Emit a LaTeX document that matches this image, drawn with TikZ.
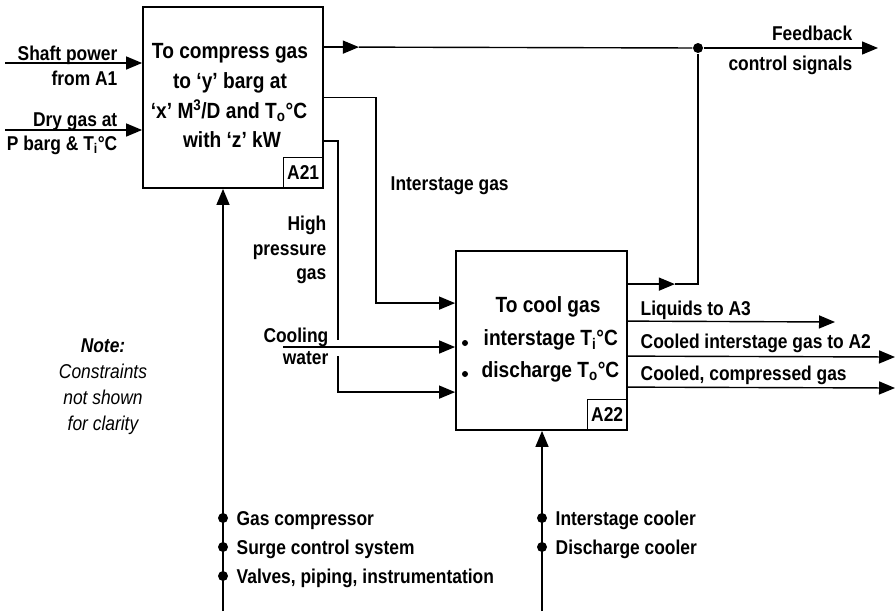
\documentclass[tikz,border=0pt]{standalone}
\usepackage{fontspec}
\setmainfont{Liberation Sans}[FakeStretch=0.87]
\usetikzlibrary{arrows.meta,calc}
\begin{document}
\begin{tikzpicture}[x=1pt,y=-1pt,line width=1.4pt,
  arr/.style={-{Triangle[length=16pt,width=13pt]}},
  box/.style={draw,line width=1.8pt,inner sep=0pt},
  tag/.style={draw,line width=1.4pt,inner sep=0pt,minimum width=40pt,minimum height=31pt,anchor=south east,font=\fontsize{20}{22}\selectfont\bfseries},
  lbl/.style={inner sep=0pt,font=\fontsize{20}{22}\selectfont\bfseries},
  big/.style={inner sep=0pt,font=\fontsize{22}{24}\selectfont\bfseries,anchor=base},
  notetxt/.style={inner sep=0pt,font=\fontsize{20}{22}\selectfont\itshape,anchor=base},
  dot/.style={circle,fill,inner sep=0pt,minimum size=10pt},
  sdot/.style={circle,fill,inner sep=0pt,minimum size=6pt}]
\useasboundingbox (0,0) rectangle (896,611);

% boxes
\node[box,minimum width=180pt,minimum height=181pt] (A21) at (233,97.5) {};
\node[tag] (A21t) at (A21.south east) {A21};
\node[box,minimum width=171pt,minimum height=179pt] (A22) at (541.5,340.5) {};
\node[tag] (A22t) at (A22.south east) {A22};

% box texts
\node[big] (t1) at (230,58) {To compress gas};
\node[big] (t2) at (230,88) {to ‘y’ barg at};
\node[big] (t3) at (229,118) {‘x’ M\textsuperscript{3}/D and T\textsubscript{o}°C};
\node[big] (t4) at (232,147) {with ‘z’ kW};

\node[big] (c1) at (548,312) {To cool gas};
\node[big,anchor=base west] (c2) at (483,345) {interstage T\textsubscript{i}°C};
\node[big,anchor=base west] (c3) at (481,377) {discharge T\textsubscript{o}°C};
\node[sdot] (b1) at (465,343) {};
\node[sdot] (b2) at (465,374) {};

% inputs to A21
\coordinate (sp) at (5,63);
\coordinate (dg) at (5,130);
\draw[arr] (sp) -- (sp -| A21.west);
\draw[arr] (dg) -- (dg -| A21.west);
\node[lbl,anchor=base east] (l1) at (118,60) {Shaft power};
\node[lbl,anchor=base east] (l2) at (118,85) {from A1};
\node[lbl,anchor=base east] (l3) at (118,126) {Dry gas at};
\node[lbl,anchor=base east] (l4) at (118,150) {P barg \& T\textsubscript{i}°C};

% top output and feedback
\coordinate (o1) at ($(A21.north east)+(0,41)$);
\coordinate (m1) at ($(o1)+(35,0)$);
\node[dot] (j) at (698,48) {};
\coordinate (fbend) at (878,48);
\draw[arr] (o1) -- (m1);
\draw (m1) -- (j);
\draw[arr] (j) -- (fbend);
\node[lbl,anchor=base east] (fb1) at (853,40) {Feedback};
\node[lbl,anchor=base east] (fb2) at (853,70) {control signals};

% interstage gas
\coordinate (iv) at (376,0);
\coordinate (iin) at ($(A22.north west)+(0,53)$);
\draw[arr] (A21.east) -- (A21.east -| iv) |- (iin);
\node[lbl,anchor=base west] (il) at (390,190) {Interstage gas};

% high pressure gas
\coordinate (h1) at ($(A21.north east)+(0,135)$);
\coordinate (hv) at (338,0);
\coordinate (hgap1) at (338,340);
\coordinate (hgap2) at (338,356);
\coordinate (hin) at ($(A22.north west)+(0,142)$);
\draw (h1) -- (h1 -| hv) -- (hgap1);
\draw[arr] (hgap2) |- (hin);
\node[lbl,anchor=base east] (hl1) at (327,230) {High};
\node[lbl,anchor=base east] (hl2) at (327,255) {pressure};
\node[lbl,anchor=base east] (hl3) at (327,279) {gas};

% cooling water
\coordinate (cw) at (283,347);
\draw[arr] (cw) -- (cw -| A22.west);
\node[lbl,anchor=base east] (cl1) at (329,342) {Cooling};
\node[lbl,anchor=base east] (cl2) at (329,364) {water};

% A22 outputs
\coordinate (f1) at ($(A22.north east)+(0,34)$);
\coordinate (fm) at ($(f1)+(47,0)$);
\draw[arr] (f1) -- (fm);
\draw (fm) -- (f1 -| j) -- (j);

\coordinate (q1) at ($(A22.north east)+(0,71)$);
\coordinate (q2) at ($(A22.north east)+(0,106)$);
\coordinate (q3) at ($(A22.north east)+(0,137)$);
\coordinate (e1) at (835,322);
\coordinate (e2) at (895,357);
\coordinate (e3) at (895,388);
\draw[arr] (q1) -- (e1);
\draw[arr] (q2) -- (e2);
\draw[arr] (q3) -- (e3);
\node[lbl,anchor=base west] (ql1) at (640,315) {Liquids to A3};
\node[lbl,anchor=base west] (ql2) at (640,348) {Cooled interstage gas to A2};
\node[lbl,anchor=base west] (ql3) at (640,380) {Cooled, compressed gas};

% mechanisms
\coordinate (mb1) at (223,611);
\coordinate (mb2) at (542,611);
\draw[arr] (mb1) -- (mb1 |- A21.south);
\draw[arr] (mb2) -- (mb2 |- A22.south);
\node[dot] (d1) at (223,518) {};
\node[dot] (d2) at (223,547) {};
\node[dot] (d3) at (223,576) {};
\node[dot] (d4) at (542,518) {};
\node[dot] (d5) at (542,547) {};
\node[lbl,anchor=base west] (ml1) at (236,525) {Gas compressor};
\node[lbl,anchor=base west] (ml2) at (236,554) {Surge control system};
\node[lbl,anchor=base west] (ml3) at (236,583) {Valves, piping, instrumentation};
\node[lbl,anchor=base west] (ml4) at (555,525) {Interstage cooler};
\node[lbl,anchor=base west] (ml5) at (555,554) {Discharge cooler};

% note
\node[notetxt,font=\fontsize{20}{22}\selectfont\bfseries\itshape] (n1) at (103,352) {Note:};
\node[notetxt] (n2) at (103,378) {Constraints};
\node[notetxt] (n3) at (103,404) {not shown};
\node[notetxt] (n4) at (103,430) {for clarity};
\end{tikzpicture}
\end{document}
